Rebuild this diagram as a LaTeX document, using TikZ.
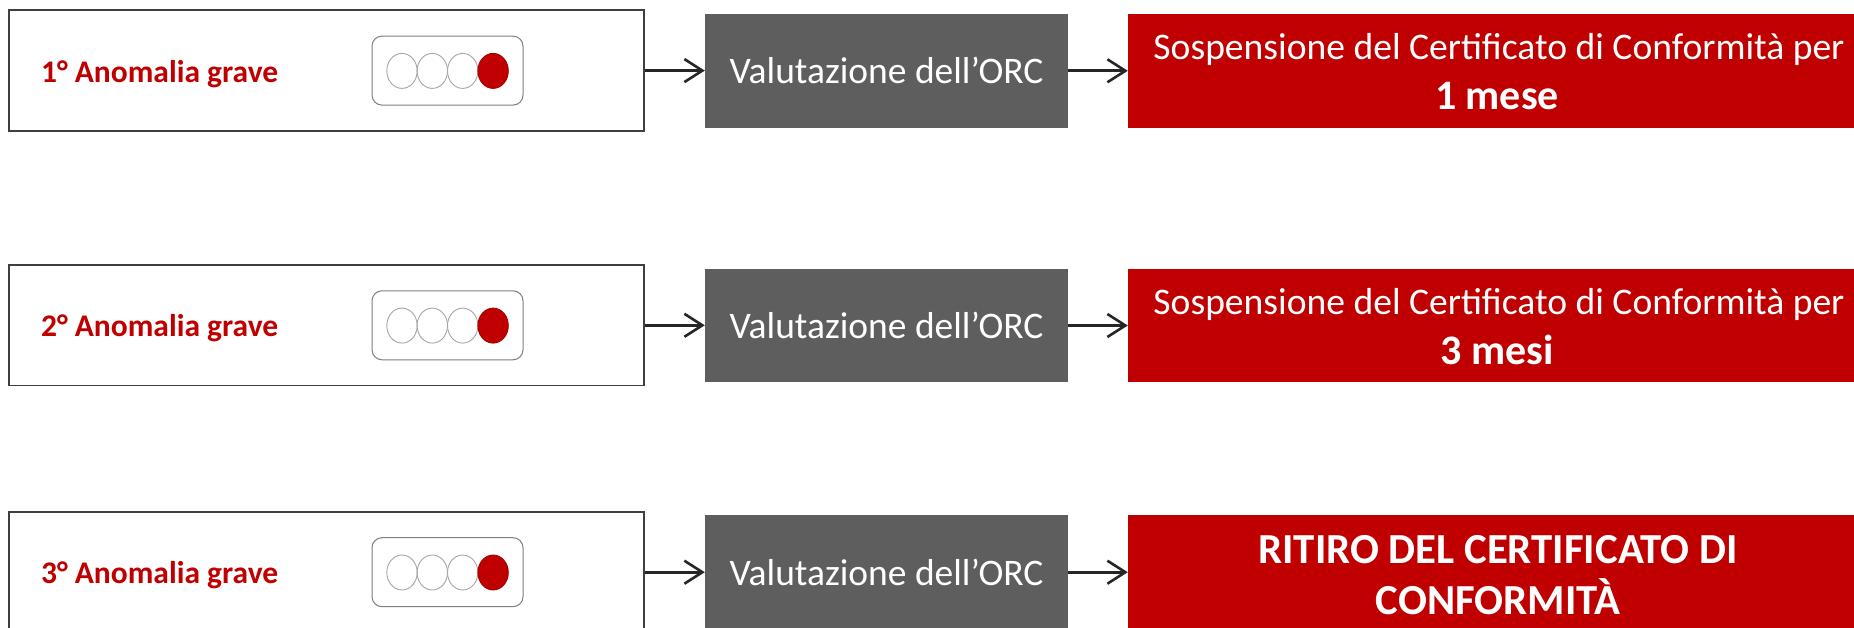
\documentclass[tikz,border=0pt]{standalone}
\usepackage{fontspec}
\setmainfont{Carlito}
\usetikzlibrary{arrows.meta,shapes.geometric}
\definecolor{redc}{HTML}{C00000}
\definecolor{greyc}{HTML}{5E5E5E}
\definecolor{framec}{HTML}{3F3F3F}
\definecolor{lightc}{HTML}{7F7F7F}
\definecolor{ringc}{HTML}{A6A6A6}
\definecolor{arrc}{HTML}{262626}
\tikzset{
  anombox/.style={draw=framec, line width=1.5pt, fill=white, minimum width=635pt, minimum height=120.7pt, inner sep=0pt},
  anomtext/.style={text=redc, font=\bfseries\fontsize{31.5}{38}\selectfont, inner sep=0pt, anchor=base},
  lightbox/.style={draw=lightc, line width=1pt, rounded corners=10pt, minimum width=151pt, minimum height=69pt, inner sep=0pt},
  lamp/.style={ellipse, draw=ringc, line width=0.9pt, minimum width=30.4pt, minimum height=35pt, inner sep=0pt},
  lampon/.style={lamp, fill=redc, draw=redc!85!black},
  evalbox/.style={fill=greyc, minimum width=363pt, minimum height=113.7pt, inner sep=0pt},
  evaltext/.style={text=white, font=\fontsize{37.5}{45}\selectfont, inner sep=0pt, anchor=base},
  outbox/.style={fill=redc, minimum width=738pt, minimum height=113.7pt, inner sep=0pt},
  outtext/.style={text=white, font=\fontsize{37.6}{45}\selectfont, inner sep=0pt, anchor=base},
  outbold/.style={text=white, font=\bfseries\fontsize{42}{50}\selectfont, inner sep=0pt, anchor=base},
  outcaps/.style={text=white, font=\bfseries\fontsize{42.8}{50}\selectfont, inner sep=0pt, anchor=base},
  arr/.style={draw=arrc, line width=2.6pt, -{Straight Barb[length=18pt,width=23pt,line width=2.6pt]}}
}
\begin{document}
\begin{tikzpicture}[x=1pt,y=-1pt]
\useasboundingbox (0,0) rectangle (1854,628);
\fill[white] (0,0) rectangle (1854,628);
% ---------- Row 1 ----------
\node[anombox] (b1) at (326.5,70.6) {};
\node[anomtext] (t1) at (159.6,82.2) {1° Anomalia grave};
\node[lightbox] (s1) at (447.5,70.6) {};
\node[lamp] (s1a) at (402.0,70.9) {};
\node[lamp] (s1b) at (432.3,70.9) {};
\node[lamp] (s1c) at (462.7,70.9) {};
\node[lampon] (s1d) at (493.1,70.9) {};
\node[evalbox] (g1) at (886.5,70.8) {};
\node[evaltext] (gt1) at (886.5,84.0) {Valutazione dell’ORC};
\node[outbox] (r1) at (1497,70.8) {};
\node[outtext] (rt1a) at (1499,60.0) {Sospensione del Certificato di Conformità per};
\node[outbold] (rt1b) at (1497,109.3) {1 mese};
\draw[arr] (b1.east) -- (b1.east -| g1.west);
\draw[arr] (g1.east) -- (g1.east -| r1.west);
% ---------- Row 2 ----------
\node[anombox] (b2) at (326.5,325.3) {};
\node[anomtext] (t2) at (159.6,336.9) {2° Anomalia grave};
\node[lightbox] (s2) at (447.5,325.3) {};
\node[lamp] (s2a) at (402.0,325.6) {};
\node[lamp] (s2b) at (432.3,325.6) {};
\node[lamp] (s2c) at (462.7,325.6) {};
\node[lampon] (s2d) at (493.1,325.6) {};
\node[evalbox] (g2) at (886.5,325.5) {};
\node[evaltext] (gt2) at (886.5,338.7) {Valutazione dell’ORC};
\node[outbox] (r2) at (1497,325.5) {};
\node[outtext] (rt2a) at (1499,314.7) {Sospensione del Certificato di Conformità per};
\node[outbold] (rt2b) at (1497,364.0) {3 mesi};
\draw[arr] (b2.east) -- (b2.east -| g2.west);
\draw[arr] (g2.east) -- (g2.east -| r2.west);
% ---------- Row 3 ----------
\node[anombox] (b3) at (326.5,572.2) {};
\node[anomtext] (t3) at (159.6,583.8) {3° Anomalia grave};
\node[lightbox] (s3) at (447.5,572.2) {};
\node[lamp] (s3a) at (402.0,572.5) {};
\node[lamp] (s3b) at (432.3,572.5) {};
\node[lamp] (s3c) at (462.7,572.5) {};
\node[lampon] (s3d) at (493.1,572.5) {};
\node[evalbox] (g3) at (886.5,572.2) {};
\node[evaltext] (gt3) at (886.5,585.4) {Valutazione dell’ORC};
\node[outbox] (r3) at (1497,572.2) {};
\node[outcaps] (rt3a) at (1498,563.0) {RITIRO DEL CERTIFICATO DI};
\node[outcaps] (rt3b) at (1498,614.5) {CONFORMITÀ};
\draw[arr] (b3.east) -- (b3.east -| g3.west);
\draw[arr] (g3.east) -- (g3.east -| r3.west);
\end{tikzpicture}
\end{document}
